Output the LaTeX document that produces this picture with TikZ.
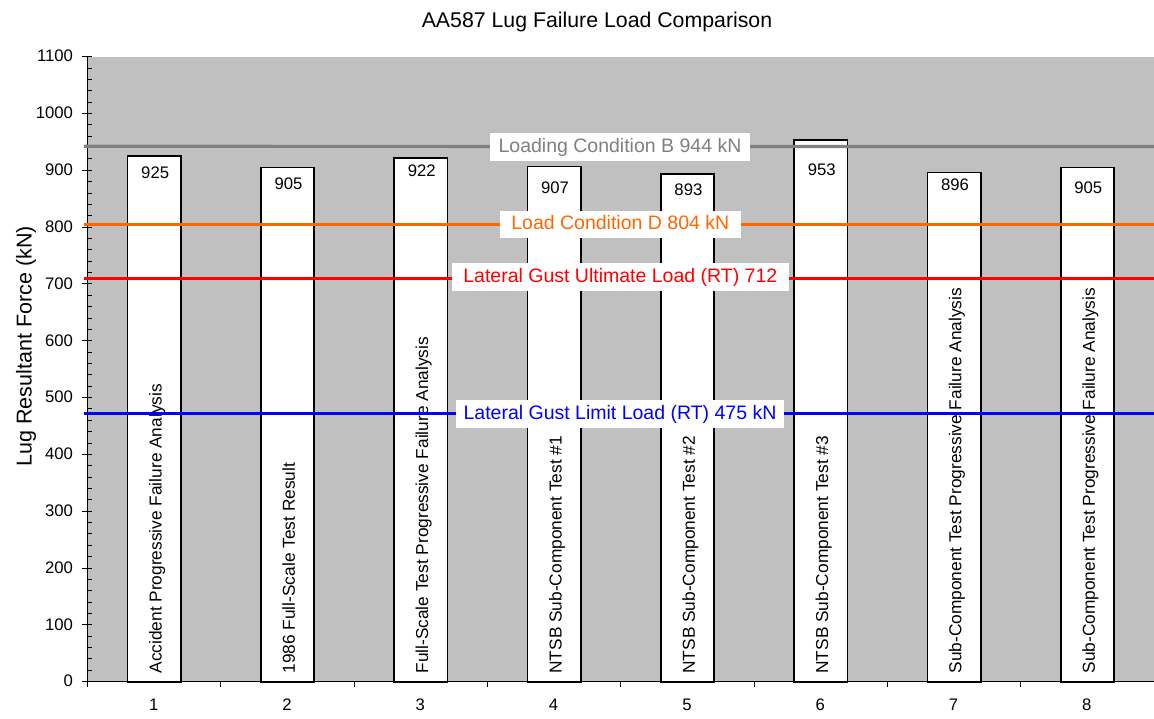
\documentclass[tikz,border=0pt]{standalone}
\usepackage{fontspec}
\setmainfont{Liberation Sans}
\definecolor{plotgray}{HTML}{C0C0C0}
\definecolor{linegray}{HTML}{808080}
\definecolor{lineorange}{HTML}{FF6600}
\begin{document}
\begin{tikzpicture}[x=1pt,y=-1pt,
  small/.style={font=\fontsize{16.7}{20}\selectfont, inner sep=0pt},
  barlabel/.style={font=\fontsize{17.3}{20}\selectfont, inner sep=0pt, rotate=90, anchor=base west},
  refline/.style={line width=3.2pt},
  linelabel/.style={fill=white, inner xsep=0pt, inner ysep=4pt, text height=15pt, text depth=4.5pt, font=\fontsize{19.5}{23}\selectfont, anchor=base},
  barbox/.style={draw=black, fill=white, line width=1.7pt},
  axisline/.style={draw=black, line width=1.3pt},
  tickline/.style={draw=black, line width=1pt}]
\useasboundingbox (0,0) rectangle (1154,719);
% plot area
\fill[plotgray] (87.5,56.7) rectangle (1154,681.7);
% title
\node[font=\fontsize{21.3}{25}\selectfont, inner sep=0pt, anchor=base] (title) at (597,27.3) {AA587 Lug Failure Load Comparison};
% y axis label
\node[font=\fontsize{21.5}{25}\selectfont, inner sep=0pt, rotate=90, anchor=base] (ylabel) at (31.5,346.3) {Lug Resultant Force (kN)};
% bars
\foreach \i/\v/\ly/\lab in {
  1/925/179/{Accident Progressive Failure Analysis},
  2/905/190/{1986 Full-Scale Test Result},
  3/922/176.5/{Full-Scale Test Progressive Failure Analysis},
  4/907/194/{NTSB Sub-Component Test \#1},
  5/893/195.7/{NTSB Sub-Component Test \#2},
  6/953/175.7/{NTSB Sub-Component Test \#3},
  7/896/191/{Sub-Component Test Progressive Failure Analysis},
  8/905/193.3/{Sub-Component Test Progressive Failure Analysis}} {
  \pgfmathsetmacro\cx{87.5+(\i-0.5)*133.3125}
  \pgfmathsetmacro\ty{681.7-\v*0.568182}
  \draw[barbox] ({\cx-26.65},681.7) rectangle ({\cx+26.65},\ty);
  \node[small, anchor=base] (val\i) at ({\cx+1},\ly) {\v};
  \node[barlabel] (lab\i) at ({\cx+7.4},673.7) {\lab};
  \node[small, anchor=base] (cat\i) at ({\cx-0.5},710) {\i};
}
% axes
\draw[axisline] (87.5,681.7) -- (1154,681.7);
\draw[axisline] (87.5,56.7) -- (87.5,686.7);
\foreach \v in {0,20,...,1100} {
  \draw[tickline] (87.5,{681.7-\v*0.568182}) -- (91.7,{681.7-\v*0.568182});
}
\foreach \v in {0,100,...,1100} {
  \draw[tickline] (81.7,{681.7-\v*0.568182}) -- (91.7,{681.7-\v*0.568182});
  \node[small, anchor=east] (tick\v) at (73.2,{681.2-\v*0.568182}) {\v};
}
\foreach \i in {0,...,8} {
  \draw[tickline] ({87.5+\i*133.3125},681.7) -- ({87.5+\i*133.3125},686.7);
}
% reference lines
\draw[refline, linegray] (84,146.3) -- (1154,146.6);
\draw[refline, lineorange] (84,224.8) -- (1154,224.8);
\draw[refline, red] (84,278.3) -- (1154,278.3);
\draw[refline, blue] (84,413.3) -- (1154,413.3);
% line labels
\node[linelabel, text=linegray, minimum width=260pt] (lblB) at (620,152.3) {Loading Condition B 944 kN};
\node[linelabel, text=lineorange, minimum width=240.7pt] (lblD) at (620.3,230) {Load Condition D 804 kN};
\node[linelabel, text=red, minimum width=337.3pt] (lblU) at (620.3,282.3) {Lateral Gust Ultimate Load (RT) 712};
\node[linelabel, text=blue, minimum width=328pt] (lblL) at (620,419) {Lateral Gust Limit Load (RT) 475 kN};
\end{tikzpicture}
\end{document}
